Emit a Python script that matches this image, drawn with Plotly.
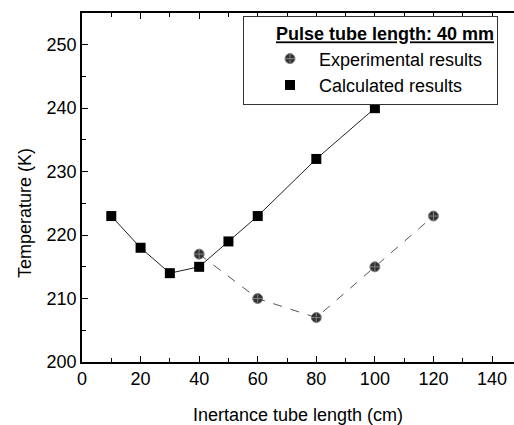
import plotly.graph_objects as go

# Data
calc_x = [10, 20, 30, 40, 50, 60, 80, 100]
calc_y = [223, 218, 214, 215, 219, 223, 232, 240]
exp_x = [40, 60, 80, 100, 120]
exp_y = [217, 210, 207, 215, 223]
x_ticks = [0, 20, 40, 60, 80, 100, 120, 140]
y_ticks = [200, 210, 220, 230, 240, 250]

FONT = "Liberation Sans, Arial, sans-serif"
PAD = "&nbsp;" * 6

fig = go.Figure()
# connecting lines (not in legend)
fig.add_trace(go.Scatter(x=exp_x, y=exp_y, mode="lines",
                         line=dict(color="#555", width=1, dash="dash"),
                         showlegend=False, hoverinfo="skip"))
fig.add_trace(go.Scatter(x=calc_x, y=calc_y, mode="lines",
                         line=dict(color="#222", width=1),
                         showlegend=False, hoverinfo="skip"))
# markers
fig.add_trace(go.Scatter(x=exp_x, y=exp_y, mode="markers", name="Experimental results",
                         marker=dict(symbol="circle-cross", size=10, color="#333333",
                                     line=dict(color="#808080", width=1))))
fig.add_trace(go.Scatter(x=calc_x, y=calc_y, mode="markers", name="Calculated results",
                         marker=dict(symbol="square", size=10, color="black",
                                     line=dict(width=0))))

fig.update_layout(
    width=514, height=425,
    margin=dict(l=82, r=0, t=13, b=63, autoexpand=False),
    paper_bgcolor="white", plot_bgcolor="white",
    font=dict(family=FONT, size=18, color="black"),
    showlegend=True,
    legend=dict(
        x=(243 - 82) / 432, y=1 - (16 - 13) / 349, xanchor="left", yanchor="top",
        bgcolor="white", bordercolor="#333", borderwidth=1,
        font=dict(family=FONT, size=18, color="black"),
        title=dict(text=PAD + "<b><u>Pulse tube length: 40 mm</u></b>",
                   font=dict(family=FONT, size=18), side="top"),
        itemwidth=48, indentation=17, traceorder="normal",
    ),
    xaxis=dict(
        range=[0, 147.5], tickvals=x_ticks, ticks="inside", ticklen=6, tickwidth=1,
        tickcolor="black", showline=True, linecolor="black", linewidth=1.5,
        mirror="ticks", showgrid=False, zeroline=False,
        tickfont=dict(family=FONT, size=18),
        minor=dict(dtick=10, ticks="inside", ticklen=4, tickcolor="black"),
        title=dict(text="Inertance tube length (cm)", font=dict(family=FONT, size=18), standoff=24),
    ),
    yaxis=dict(
        range=[200, 255], tickvals=y_ticks, ticks="inside", ticklen=6, tickwidth=1,
        tickcolor="black", showline=True, linecolor="black", linewidth=1.5,
        mirror=False, showgrid=False, zeroline=False,
        tickfont=dict(family=FONT, size=18),
        minor=dict(dtick=5, ticks="inside", ticklen=4, tickcolor="black"),
    ),
    annotations=[dict(text="Temperature (K)", textangle=-90, xref="paper", yref="paper",
                      x=(25 - 82) / 432, y=(362 - 213) / 349, xanchor="center", yanchor="middle",
                      showarrow=False, font=dict(family=FONT, size=18, color="black"))],
)

fig.write_html("out.html")
